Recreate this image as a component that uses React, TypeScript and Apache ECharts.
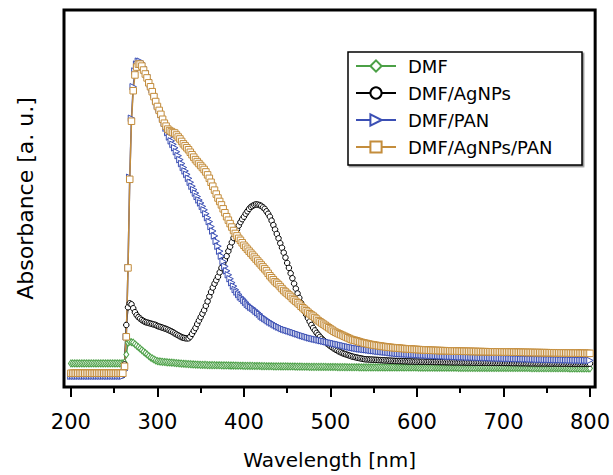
import React, { useEffect, useRef } from "react";
import * as echarts from "echarts";

// wavelengths, 2 nm steps
const wavelengths = [
  200, 202, 204, 206, 208, 210, 212, 214, 216, 218,
  220, 222, 224, 226, 228, 230, 232, 234, 236, 238,
  240, 242, 244, 246, 248, 250, 252, 254, 256, 258,
  260, 262, 264, 266, 268, 270, 272, 274, 276, 278,
  280, 282, 284, 286, 288, 290, 292, 294, 296, 298,
  300, 302, 304, 306, 308, 310, 312, 314, 316, 318,
  320, 322, 324, 326, 328, 330, 332, 334, 336, 338,
  340, 342, 344, 346, 348, 350, 352, 354, 356, 358,
  360, 362, 364, 366, 368, 370, 372, 374, 376, 378,
  380, 382, 384, 386, 388, 390, 392, 394, 396, 398,
  400, 402, 404, 406, 408, 410, 412, 414, 416, 418,
  420, 422, 424, 426, 428, 430, 432, 434, 436, 438,
  440, 442, 444, 446, 448, 450, 452, 454, 456, 458,
  460, 462, 464, 466, 468, 470, 472, 474, 476, 478,
  480, 482, 484, 486, 488, 490, 492, 494, 496, 498,
  500, 502, 504, 506, 508, 510, 512, 514, 516, 518,
  520, 522, 524, 526, 528, 530, 532, 534, 536, 538,
  540, 542, 544, 546, 548, 550, 552, 554, 556, 558,
  560, 562, 564, 566, 568, 570, 572, 574, 576, 578,
  580, 582, 584, 586, 588, 590, 592, 594, 596, 598,
  600, 602, 604, 606, 608, 610, 612, 614, 616, 618,
  620, 622, 624, 626, 628, 630, 632, 634, 636, 638,
  640, 642, 644, 646, 648, 650, 652, 654, 656, 658,
  660, 662, 664, 666, 668, 670, 672, 674, 676, 678,
  680, 682, 684, 686, 688, 690, 692, 694, 696, 698,
  700, 702, 704, 706, 708, 710, 712, 714, 716, 718,
  720, 722, 724, 726, 728, 730, 732, 734, 736, 738,
  740, 742, 744, 746, 748, 750, 752, 754, 756, 758,
  760, 762, 764, 766, 768, 770, 772, 774, 776, 778,
  780, 782, 784, 786, 788, 790, 792, 794, 796, 798,
  800,
];

const dmf = [
  0.24, 0.24, 0.24, 0.24, 0.24, 0.24, 0.24, 0.24, 0.24, 0.24,
  0.24, 0.24, 0.24, 0.24, 0.24, 0.24, 0.24, 0.24, 0.24, 0.24,
  0.24, 0.24, 0.24, 0.24, 0.24, 0.24, 0.24, 0.24, 0.24, 0.24,
  0.24, 0.25, 0.33, 0.45, 0.46, 0.455, 0.45, 0.435, 0.42, 0.405,
  0.39, 0.375, 0.36, 0.345, 0.33, 0.315, 0.3, 0.29, 0.28, 0.27,
  0.263, 0.26, 0.258, 0.256, 0.254, 0.252, 0.25, 0.249, 0.247, 0.246,
  0.244, 0.242, 0.241, 0.239, 0.237, 0.236, 0.235, 0.234, 0.233, 0.232,
  0.23, 0.229, 0.228, 0.227, 0.226, 0.225, 0.225, 0.224, 0.224, 0.223,
  0.223, 0.223, 0.222, 0.222, 0.221, 0.221, 0.221, 0.22, 0.22, 0.22,
  0.219, 0.219, 0.218, 0.218, 0.218, 0.217, 0.217, 0.216, 0.216, 0.216,
  0.215, 0.215, 0.215, 0.214, 0.214, 0.214, 0.213, 0.213, 0.213, 0.213,
  0.212, 0.212, 0.212, 0.211, 0.211, 0.211, 0.211, 0.21, 0.21, 0.21,
  0.21, 0.209, 0.209, 0.209, 0.209, 0.209, 0.208, 0.208, 0.208, 0.208,
  0.207, 0.207, 0.207, 0.207, 0.206, 0.206, 0.206, 0.206, 0.205, 0.205,
  0.205, 0.205, 0.205, 0.204, 0.204, 0.204, 0.204, 0.204, 0.203, 0.203,
  0.203, 0.203, 0.203, 0.203, 0.202, 0.202, 0.202, 0.202, 0.202, 0.202,
  0.201, 0.201, 0.201, 0.201, 0.201, 0.201, 0.201, 0.2, 0.2, 0.2,
  0.2, 0.2, 0.2, 0.2, 0.2, 0.2, 0.2, 0.2, 0.199, 0.199,
  0.199, 0.199, 0.199, 0.199, 0.199, 0.199, 0.199, 0.199, 0.198, 0.198,
  0.198, 0.198, 0.198, 0.198, 0.198, 0.198, 0.198, 0.198, 0.198, 0.198,
  0.198, 0.197, 0.197, 0.197, 0.197, 0.197, 0.197, 0.197, 0.197, 0.197,
  0.197, 0.196, 0.196, 0.196, 0.196, 0.196, 0.196, 0.196, 0.196, 0.196,
  0.196, 0.196, 0.196, 0.196, 0.195, 0.195, 0.195, 0.195, 0.195, 0.195,
  0.195, 0.195, 0.195, 0.195, 0.195, 0.195, 0.194, 0.194, 0.194, 0.194,
  0.194, 0.194, 0.194, 0.194, 0.194, 0.194, 0.194, 0.194, 0.194, 0.194,
  0.194, 0.194, 0.194, 0.193, 0.193, 0.193, 0.193, 0.193, 0.193, 0.193,
  0.193, 0.193, 0.193, 0.193, 0.193, 0.193, 0.192, 0.192, 0.192, 0.192,
  0.192, 0.192, 0.192, 0.192, 0.192, 0.192, 0.192, 0.192, 0.191, 0.191,
  0.191, 0.191, 0.191, 0.191, 0.191, 0.191, 0.191, 0.191, 0.19, 0.19,
  0.19, 0.19, 0.19, 0.19, 0.19, 0.19, 0.19, 0.19, 0.19, 0.19,
  0.19,
];

const dmfAgNPs = [
  0.12, 0.12, 0.12, 0.12, 0.12, 0.12, 0.12, 0.12, 0.12, 0.12,
  0.12, 0.12, 0.12, 0.12, 0.12, 0.12, 0.12, 0.12, 0.12, 0.12,
  0.12, 0.12, 0.12, 0.12, 0.12, 0.12, 0.12, 0.12, 0.12, 0.12,
  0.12, 0.23, 0.63, 0.81, 0.85, 0.84, 0.8, 0.76, 0.73, 0.71,
  0.695, 0.68, 0.67, 0.66, 0.655, 0.65, 0.645, 0.64, 0.635, 0.63,
  0.62, 0.614, 0.608, 0.602, 0.596, 0.59, 0.582, 0.574, 0.566, 0.556,
  0.545, 0.535, 0.525, 0.515, 0.506, 0.5, 0.496, 0.494, 0.495, 0.512,
  0.54, 0.57, 0.6, 0.64, 0.675, 0.71, 0.745, 0.78, 0.825, 0.87,
  0.92, 0.965, 1.01, 1.05, 1.085, 1.12, 1.165, 1.21, 1.25, 1.29,
  1.33, 1.38, 1.425, 1.47, 1.515, 1.56, 1.6, 1.64, 1.675, 1.705,
  1.73, 1.76, 1.785, 1.81, 1.83, 1.84, 1.85, 1.855, 1.853, 1.848,
  1.84, 1.825, 1.81, 1.785, 1.76, 1.73, 1.69, 1.645, 1.6, 1.555,
  1.51, 1.46, 1.415, 1.365, 1.315, 1.26, 1.21, 1.155, 1.105, 1.05,
  1.0, 0.95, 0.905, 0.855, 0.81, 0.77, 0.735, 0.7, 0.665, 0.63,
  0.6, 0.575, 0.55, 0.53, 0.51, 0.49, 0.474, 0.458, 0.443, 0.429,
  0.415, 0.403, 0.391, 0.38, 0.37, 0.36, 0.352, 0.344, 0.337, 0.331,
  0.325, 0.319, 0.313, 0.308, 0.304, 0.3, 0.296, 0.292, 0.289, 0.285,
  0.282, 0.281, 0.28, 0.279, 0.278, 0.277, 0.276, 0.275, 0.274, 0.273,
  0.272, 0.271, 0.27, 0.269, 0.268, 0.267, 0.266, 0.265, 0.264, 0.264,
  0.263, 0.263, 0.262, 0.262, 0.261, 0.26, 0.26, 0.259, 0.259, 0.258,
  0.258, 0.258, 0.257, 0.257, 0.257, 0.256, 0.256, 0.256, 0.255, 0.255,
  0.254, 0.254, 0.254, 0.254, 0.253, 0.253, 0.253, 0.252, 0.252, 0.252,
  0.251, 0.251, 0.251, 0.251, 0.25, 0.25, 0.25, 0.25, 0.249, 0.249,
  0.249, 0.249, 0.248, 0.248, 0.248, 0.248, 0.247, 0.247, 0.247, 0.247,
  0.247, 0.246, 0.246, 0.246, 0.246, 0.246, 0.245, 0.245, 0.245, 0.245,
  0.245, 0.244, 0.244, 0.244, 0.244, 0.243, 0.243, 0.243, 0.243, 0.242,
  0.242, 0.242, 0.242, 0.242, 0.241, 0.241, 0.241, 0.241, 0.241, 0.24,
  0.24, 0.24, 0.24, 0.24, 0.24, 0.24, 0.239, 0.239, 0.239, 0.239,
  0.239, 0.239, 0.238, 0.238, 0.238, 0.238, 0.238, 0.238, 0.238, 0.237,
  0.237, 0.237, 0.237, 0.237, 0.237, 0.237, 0.237, 0.237, 0.237, 0.237,
  0.237,
];

const dmfPAN = [
  0.11, 0.11, 0.11, 0.11, 0.11, 0.11, 0.11, 0.11, 0.11, 0.11,
  0.11, 0.11, 0.11, 0.11, 0.11, 0.11, 0.11, 0.11, 0.11, 0.11,
  0.11, 0.11, 0.11, 0.11, 0.11, 0.11, 0.11, 0.11, 0.11, 0.11,
  0.11, 0.17, 0.51, 1.21, 2.13, 2.73, 3.05, 3.21, 3.28, 3.31,
  3.31, 3.29, 3.25, 3.21, 3.17, 3.12, 3.07, 3.02, 2.97, 2.91,
  2.86, 2.82, 2.77, 2.73, 2.68, 2.63, 2.585, 2.54, 2.5, 2.465,
  2.43, 2.39, 2.35, 2.31, 2.27, 2.23, 2.195, 2.16, 2.12, 2.08,
  2.04, 2.005, 1.97, 1.935, 1.9, 1.87, 1.835, 1.8, 1.76, 1.72,
  1.68, 1.63, 1.585, 1.535, 1.48, 1.43, 1.38, 1.33, 1.275, 1.225,
  1.18, 1.14, 1.1, 1.06, 1.025, 0.99, 0.965, 0.94, 0.915, 0.9,
  0.88, 0.86, 0.84, 0.825, 0.81, 0.8, 0.785, 0.77, 0.755, 0.74,
  0.72, 0.708, 0.696, 0.684, 0.672, 0.66, 0.65, 0.64, 0.63, 0.62,
  0.61, 0.602, 0.594, 0.586, 0.58, 0.575, 0.569, 0.563, 0.557, 0.551,
  0.545, 0.539, 0.533, 0.527, 0.521, 0.515, 0.51, 0.505, 0.499, 0.494,
  0.49, 0.486, 0.482, 0.478, 0.474, 0.47, 0.466, 0.462, 0.458, 0.454,
  0.45, 0.446, 0.442, 0.438, 0.434, 0.43, 0.426, 0.422, 0.418, 0.414,
  0.41, 0.406, 0.402, 0.399, 0.395, 0.392, 0.389, 0.386, 0.384, 0.382,
  0.38, 0.378, 0.375, 0.373, 0.37, 0.368, 0.366, 0.363, 0.361, 0.359,
  0.357, 0.355, 0.353, 0.351, 0.349, 0.347, 0.345, 0.343, 0.341, 0.339,
  0.337, 0.336, 0.335, 0.334, 0.333, 0.332, 0.331, 0.33, 0.329, 0.328,
  0.327, 0.326, 0.325, 0.324, 0.323, 0.322, 0.321, 0.32, 0.319, 0.318,
  0.318, 0.317, 0.316, 0.315, 0.314, 0.314, 0.313, 0.312, 0.311, 0.31,
  0.31, 0.309, 0.308, 0.307, 0.306, 0.305, 0.305, 0.304, 0.304, 0.303,
  0.302, 0.302, 0.301, 0.301, 0.3, 0.299, 0.299, 0.298, 0.298, 0.297,
  0.296, 0.296, 0.295, 0.295, 0.294, 0.293, 0.293, 0.292, 0.292, 0.291,
  0.29, 0.29, 0.289, 0.289, 0.288, 0.288, 0.287, 0.287, 0.286, 0.286,
  0.285, 0.285, 0.284, 0.284, 0.284, 0.283, 0.283, 0.282, 0.282, 0.281,
  0.28, 0.28, 0.28, 0.279, 0.279, 0.278, 0.278, 0.278, 0.277, 0.277,
  0.276, 0.276, 0.276, 0.275, 0.275, 0.275, 0.274, 0.274, 0.274, 0.273,
  0.273, 0.273, 0.272, 0.272, 0.272, 0.271, 0.271, 0.271, 0.27, 0.27,
  0.27,
];

const dmfAgNPsPAN = [
  0.14, 0.14, 0.14, 0.14, 0.14, 0.14, 0.14, 0.14, 0.14, 0.14,
  0.14, 0.14, 0.14, 0.14, 0.14, 0.14, 0.14, 0.14, 0.14, 0.14,
  0.14, 0.14, 0.14, 0.14, 0.14, 0.14, 0.14, 0.14, 0.14, 0.14,
  0.14, 0.21, 0.51, 1.21, 2.11, 2.7, 3.01, 3.17, 3.25, 3.28,
  3.28, 3.26, 3.22, 3.18, 3.14, 3.09, 3.05, 3.0, 2.95, 2.9,
  2.85, 2.81, 2.77, 2.72, 2.68, 2.65, 2.62, 2.605, 2.595, 2.585,
  2.58, 2.56, 2.54, 2.52, 2.495, 2.47, 2.45, 2.43, 2.41, 2.385,
  2.36, 2.335, 2.31, 2.29, 2.27, 2.25, 2.23, 2.21, 2.185, 2.155,
  2.12, 2.08, 2.04, 2.0, 1.96, 1.92, 1.885, 1.85, 1.81, 1.77,
  1.73, 1.695, 1.66, 1.625, 1.59, 1.56, 1.535, 1.51, 1.49, 1.465,
  1.44, 1.42, 1.4, 1.38, 1.36, 1.34, 1.32, 1.3, 1.28, 1.26,
  1.24, 1.22, 1.2, 1.18, 1.155, 1.13, 1.11, 1.09, 1.07, 1.055,
  1.04, 1.02, 1.0, 0.98, 0.965, 0.95, 0.935, 0.92, 0.9, 0.885,
  0.87, 0.855, 0.84, 0.82, 0.805, 0.79, 0.775, 0.76, 0.744, 0.732,
  0.72, 0.705, 0.69, 0.674, 0.662, 0.65, 0.638, 0.626, 0.614, 0.602,
  0.59, 0.578, 0.566, 0.556, 0.548, 0.54, 0.532, 0.524, 0.516, 0.508,
  0.5, 0.492, 0.484, 0.478, 0.474, 0.47, 0.464, 0.458, 0.453, 0.449,
  0.445, 0.441, 0.437, 0.433, 0.43, 0.427, 0.424, 0.421, 0.419, 0.416,
  0.413, 0.411, 0.408, 0.406, 0.404, 0.402, 0.4, 0.399, 0.397, 0.396,
  0.394, 0.392, 0.391, 0.389, 0.388, 0.387, 0.386, 0.385, 0.383, 0.382,
  0.381, 0.38, 0.379, 0.378, 0.377, 0.376, 0.375, 0.374, 0.373, 0.373,
  0.372, 0.371, 0.371, 0.37, 0.37, 0.369, 0.369, 0.368, 0.367, 0.367,
  0.366, 0.366, 0.365, 0.365, 0.364, 0.364, 0.363, 0.363, 0.363, 0.362,
  0.362, 0.362, 0.361, 0.361, 0.361, 0.36, 0.36, 0.36, 0.359, 0.359,
  0.359, 0.358, 0.358, 0.358, 0.357, 0.357, 0.357, 0.357, 0.356, 0.356,
  0.356, 0.355, 0.355, 0.355, 0.355, 0.354, 0.354, 0.354, 0.353, 0.353,
  0.353, 0.352, 0.352, 0.352, 0.351, 0.351, 0.351, 0.351, 0.35, 0.35,
  0.35, 0.35, 0.349, 0.349, 0.349, 0.349, 0.348, 0.348, 0.348, 0.348,
  0.347, 0.347, 0.347, 0.346, 0.346, 0.346, 0.346, 0.345, 0.345, 0.345,
  0.344, 0.344, 0.344, 0.344, 0.343, 0.343, 0.343, 0.343, 0.342, 0.342,
  0.342,
];

const seriesNames = ["DMF", "DMF/AgNPs", "DMF/PAN", "DMF/AgNPs/PAN"];
const xMajorTicks = [200, 300, 400, 500, 600, 700, 800];
const xMinorTicks = [250, 350, 450, 550, 650, 750];

const FONT = "DejaVu Sans";

export default function App() {
  const ref = useRef<HTMLDivElement>(null);

  useEffect(() => {
    const chart = echarts.init(ref.current!, null, { renderer: "svg" });

    const mk = (
      name: string,
      vals: number[],
      color: string,
      symbol: string,
      size: number | number[],
      rotate = 0
    ) => ({
      name,
      type: "line",
      data: wavelengths.map((w, i) => [w, vals[i]]),
      symbol,
      symbolSize: size,
      symbolRotate: rotate,
      showSymbol: true,
      showAllSymbol: true,
      lineStyle: { color, width: 1.5 },
      itemStyle: { color: "#ffffff", borderColor: color, borderWidth: 1 },
      emphasis: { disabled: true },
      silent: true,
    });

    chart.setOption({
      animation: false,
      backgroundColor: "#ffffff",
      grid: {
        left: 64,
        right: 16,
        top: 10,
        bottom: 82,
        show: true,
        borderColor: "#000",
        borderWidth: 3,
        backgroundColor: "transparent",
      },
      xAxis: [
        {
          type: "value",
          min: 192,
          max: 806,
          position: "bottom",
          axisLine: { show: false },
          splitLine: { show: false },
          axisTick: {
            show: true,
            inside: false,
            length: 10,
            lineStyle: { color: "#000", width: 2 },
            customValues: xMajorTicks,
          },
          axisLabel: {
            show: true,
            margin: 24,
            fontSize: 21,
            fontFamily: FONT,
            color: "#000",
            customValues: xMajorTicks,
          },
          name: "Wavelength [nm]",
          nameLocation: "middle",
          nameGap: 63,
          nameTextStyle: { fontSize: 20, fontFamily: FONT, color: "#000" },
        },
        {
          type: "value",
          min: 192,
          max: 806,
          position: "bottom",
          offset: 0,
          axisLine: { show: false },
          splitLine: { show: false },
          axisTick: {
            show: true,
            inside: false,
            length: 6,
            lineStyle: { color: "#000", width: 2 },
            customValues: xMinorTicks,
          },
          axisLabel: { show: false },
        },
      ],
      yAxis: {
        type: "value",
        min: 0,
        max: 3.83,
        axisLine: { show: false },
        axisTick: { show: false },
        axisLabel: { show: false },
        splitLine: { show: false },
        name: "Absorbance [a. u.]",
        nameLocation: "middle",
        nameRotate: 90,
        nameGap: 28,
        nameTextStyle: { fontSize: 22, fontFamily: FONT, color: "#000" },
      },
      legend: {
        orient: "vertical",
        left: 355,
        top: 57,
        padding: 0,
        itemWidth: 40,
        itemHeight: 14,
        itemGap: 9,
        data: seriesNames,
        z: 10,
        textStyle: {
          fontSize: 18,
          fontFamily: FONT,
          color: "#000",
          padding: [0, 0, 0, 7],
        },
      },
      graphic: [
        {
          type: "rect",
          z: 5,
          shape: { x: 348, y: 52, width: 234, height: 113 },
          style: {
            fill: "#ffffff",
            stroke: "#000",
            lineWidth: 1.5,
            shadowColor: "rgba(0,0,0,0.45)",
            shadowOffsetX: 1.5,
            shadowOffsetY: 1.5,
            shadowBlur: 1,
          },
        },
      ],
      series: [
        mk(seriesNames[0], dmf, "#4ba046", "diamond", [5, 7]),
        mk(seriesNames[1], dmfAgNPs, "#000000", "circle", 5.5),
        mk(seriesNames[2], dmfPAN, "#3b4fb4", "triangle", 6.5, -90),
        mk(seriesNames[3], dmfAgNPsPAN, "#c48d3c", "rect", 6.5),
      ],
    });

    return () => chart.dispose();
  }, []);

  return (
    <div
      ref={ref}
      style={{ position: "fixed", left: 0, top: 0, width: 613, height: 475 }}
    />
  );
}
